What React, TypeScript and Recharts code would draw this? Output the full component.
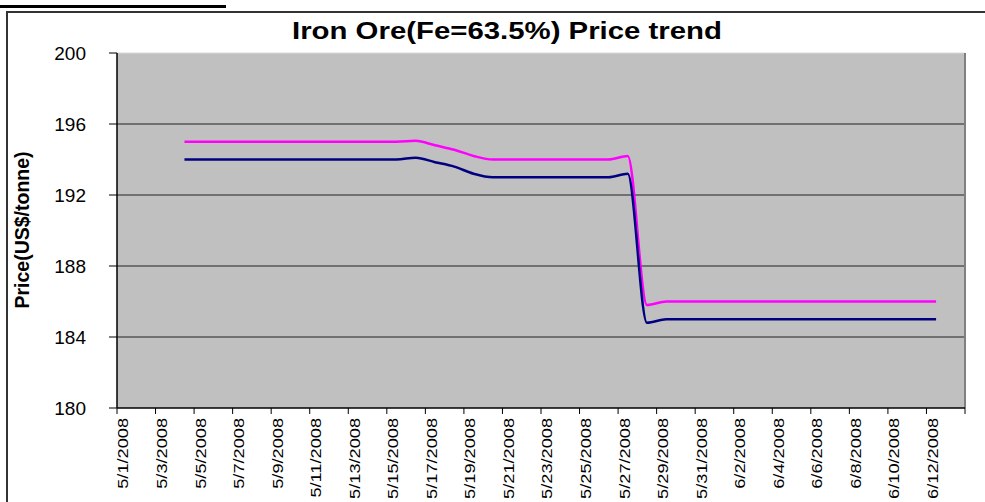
import { LineChart, Line, XAxis, YAxis, CartesianGrid, ReferenceLine } from 'recharts';

const FONT = '"Liberation Sans", Arial, sans-serif';

// daily quotes, 5/4/2008 .. 6/12/2008
const dates = [
  '5/4/2008', '5/5/2008', '5/6/2008', '5/7/2008', '5/8/2008', '5/9/2008', '5/10/2008', '5/11/2008',
  '5/12/2008', '5/13/2008', '5/14/2008', '5/15/2008', '5/16/2008', '5/17/2008', '5/18/2008', '5/19/2008',
  '5/20/2008', '5/21/2008', '5/22/2008', '5/23/2008', '5/24/2008', '5/25/2008', '5/26/2008', '5/27/2008',
  '5/28/2008', '5/29/2008', '5/30/2008', '5/31/2008', '6/1/2008', '6/2/2008', '6/3/2008', '6/4/2008',
  '6/5/2008', '6/6/2008', '6/7/2008', '6/8/2008', '6/9/2008', '6/10/2008', '6/11/2008', '6/12/2008',
];

const upperPrice = [
  195, 195, 195, 195, 195, 195, 195, 195,
  195, 195, 195, 195, 195.05, 194.8, 194.55, 194.2,
  194, 194, 194, 194, 194, 194, 194, 194.2,
  185.8, 186, 186, 186, 186, 186, 186, 186,
  186, 186, 186, 186, 186, 186, 186, 186,
];

const lowerPrice = [
  194, 194, 194, 194, 194, 194, 194, 194,
  194, 194, 194, 194, 194.1, 193.85, 193.6, 193.2,
  193, 193, 193, 193, 193, 193, 193, 193.2,
  184.8, 185, 185, 185, 185, 185, 185, 185,
  185, 185, 185, 185, 185, 185, 185, 185,
];

const xTickLabels = [
  '5/1/2008', '5/3/2008', '5/5/2008', '5/7/2008', '5/9/2008', '5/11/2008', '5/13/2008', '5/15/2008',
  '5/17/2008', '5/19/2008', '5/21/2008', '5/23/2008', '5/25/2008', '5/27/2008', '5/29/2008', '5/31/2008',
  '6/2/2008', '6/4/2008', '6/6/2008', '6/8/2008', '6/10/2008', '6/12/2008',
];

const yTicks = [180, 184, 188, 192, 196, 200];

// days since 5/1, points sit in the middle of their day like Excel's date axis
const dayIndex = (d: string) => {
  const [m, day] = d.split('/').map(Number);
  return (m === 5 ? 0 : 31) + day - 1;
};

const data = dates.map((d, i) => ({
  x: dayIndex(d) + 0.5,
  date: d,
  upper: upperPrice[i],
  lower: lowerPrice[i],
}));

const xTicks = [...xTickLabels.map((_, i) => i * 2), xTickLabels.length * 2];

const XTick = (props: any) => {
  const { x, y, payload } = props;
  const label = xTickLabels[payload.value / 2];
  if (!label) return null;
  return (
    <text
      x={0}
      y={0}
      dy={13.5}
      transform={`translate(${x},${y}) rotate(-90) scale(1,0.85)`}
      textAnchor="end"
      fontSize={18.2}
      fontFamily={FONT}
      fill="#000"
    >
      {label}
    </text>
  );
};

export default function App() {
  return (
    <div style={{ position: 'absolute', left: 0, top: 0, width: 985, height: 502, overflow: 'hidden', background: '#fff' }}>
      <div style={{ position: 'absolute', left: 0, top: 5, width: 226, height: 3, background: '#000' }} />
      <div style={{ position: 'absolute', left: 6, top: 11, width: 1010, height: 520, border: '2px solid #333' }} />

      <LineChart
        width={985}
        height={502}
        data={data}
        margin={{ top: 53, right: 20, bottom: 0, left: 0 }}
        style={{ position: 'absolute', left: 0, top: 0 }}
      >
        <CartesianGrid
          horizontal
          vertical={false}
          horizontalValues={[184, 188, 192, 196]}
          stroke="#222"
          fill="#C0C0C0"
          fillOpacity={1}
        />
        <XAxis
          type="number"
          dataKey="x"
          domain={[0, 44]}
          ticks={xTicks}
          interval={0}
          height={94}
          tickSize={6}
          tickMargin={4}
          axisLine={{ stroke: '#000', strokeWidth: 1.5 }}
          tickLine={{ stroke: '#000' }}
          tick={<XTick />}
        />
        <YAxis
          type="number"
          domain={[180, 200]}
          ticks={yTicks}
          width={117}
          tickSize={8}
          tickMargin={23}
          axisLine={{ stroke: '#000', strokeWidth: 1.5 }}
          tickLine={{ stroke: '#000' }}
          tick={{ fontSize: 19, fontFamily: FONT, fill: '#000' }}
          label={{
            content: () => (
              <text
                x={29}
                y={230}
                transform="rotate(-90, 29, 230)"
                textAnchor="middle"
                fontSize={19.5}
                fontWeight="bold"
                fontFamily={FONT}
                fill="#000"
              >
                Price(US$/tonne)
              </text>
            ),
          }}
        />
        <ReferenceLine y={200} stroke="#d8d8d8" strokeWidth={1} />
        <ReferenceLine x={44} stroke="#808080" strokeWidth={2} />
        <Line
          type="monotone"
          dataKey="upper"
          stroke="#FF00FF"
          strokeWidth={2.5}
          dot={false}
          activeDot={false}
          isAnimationActive={false}
        />
        <Line
          type="monotone"
          dataKey="lower"
          stroke="#000080"
          strokeWidth={2.5}
          dot={false}
          activeDot={false}
          isAnimationActive={false}
        />
      </LineChart>

      <svg width={985} height={60} style={{ position: 'absolute', left: 0, top: 0, pointerEvents: 'none' }}>
        <text
          x={507}
          y={39}
          textAnchor="middle"
          fontSize={23}
          fontWeight="bold"
          fontFamily={FONT}
          fill="#000"
          textLength={430}
          lengthAdjust="spacingAndGlyphs"
        >
          Iron Ore(Fe=63.5%) Price trend
        </text>
      </svg>
    </div>
  );
}
